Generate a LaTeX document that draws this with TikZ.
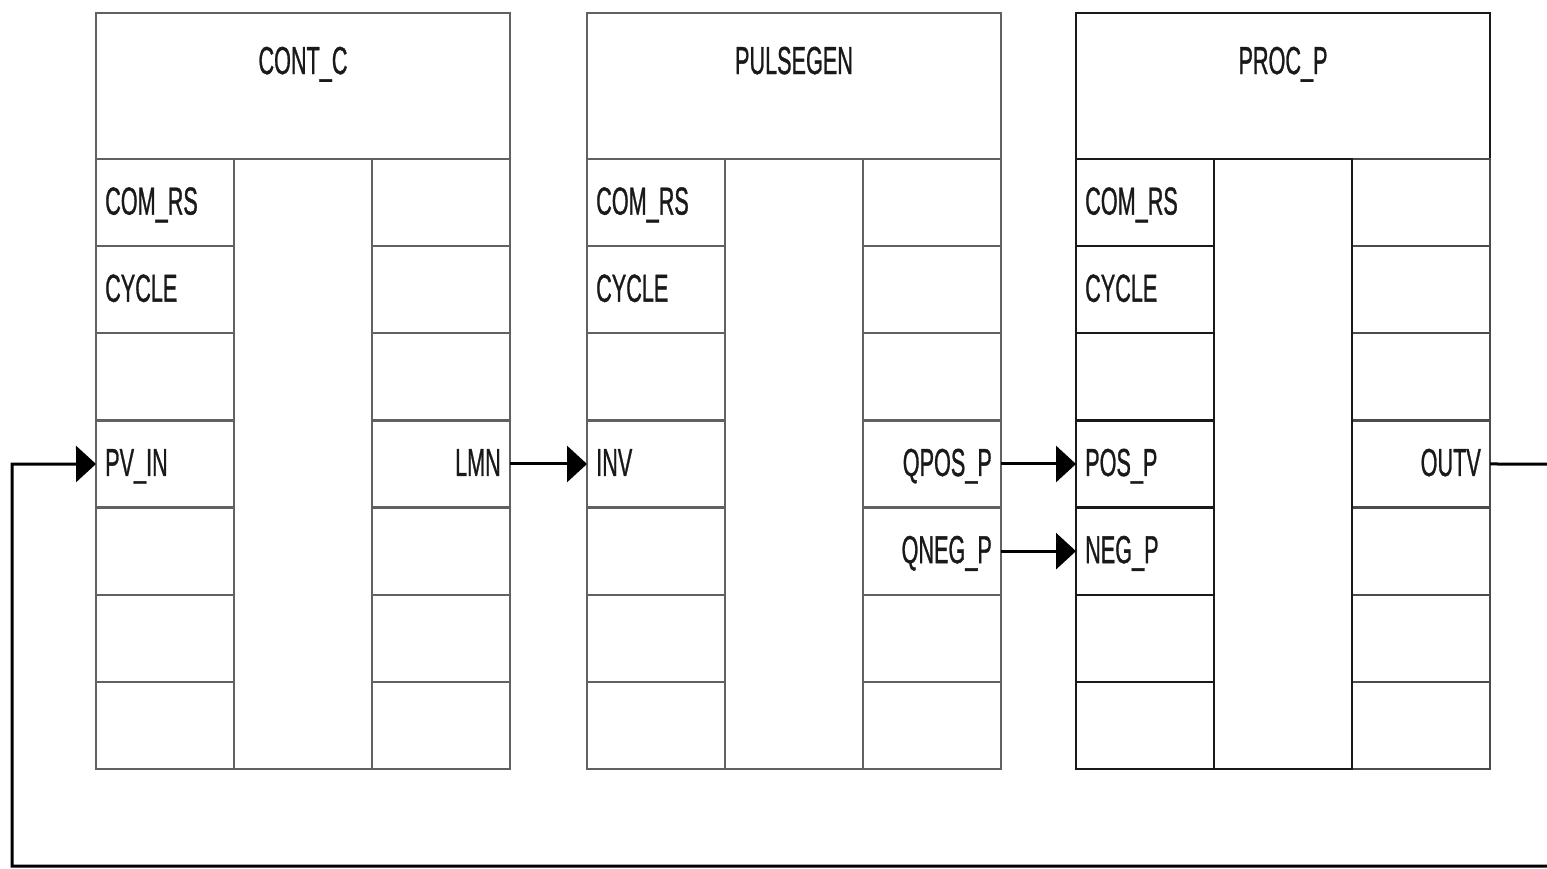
\documentclass[tikz,border=0pt]{standalone}
\usepackage{fontspec}
\usepackage{graphicx}
\setmainfont{Liberation Sans}
\newfontfamily\lblface[FakeBold=1.2]{Liberation Sans}
\usetikzlibrary{arrows.meta}
\newcommand\lbl[1]{\scalebox{0.555}[1]{#1}}
\tikzset{
  lblfont/.style={font=\lblface\fontsize{39}{44}\selectfont, text=black!90},
  cellbox/.style={draw=#1, line width=2.2pt, minimum width=138pt, minimum height=87.14pt,
    inner sep=0pt, outer sep=0pt, anchor=north west},
  midbox/.style={draw=#1, line width=2.2pt, minimum width=138pt, minimum height=609.98pt,
    inner sep=0pt, outer sep=0pt, anchor=north west},
  titlebox/.style={draw=#1, line width=2.2pt, minimum width=414pt, minimum height=146pt,
    inner sep=0pt, outer sep=0pt, anchor=north west},
  inlbl/.style={lblfont, anchor=base west, inner sep=0pt, xshift=9pt, yshift=-12pt},
  outlbl/.style={lblfont, anchor=base east, inner sep=0pt, xshift=-9pt, yshift=-12pt},
  ttl/.style={lblfont, anchor=base, inner sep=0pt},
  conn/.style={draw=black, line width=3pt},
  arr/.style={conn, -{Triangle[length=20pt,width=36pt]}},
}
\newcommand\fblk[4]{% #1 name, #2 x0, #3 colour, #4 right-column colour
  \node[titlebox=#3] (#1t) at (#2,13) {};
  \foreach \r in {1,...,7}{
    \node[cellbox=#4] (#1r\r) at ({#2+276},{159+(\r-1)*87.14}) {};
  }
  \node[midbox=#3] (#1m) at ({#2+138},159) {};
  \foreach \r in {1,...,7}{
    \node[cellbox=#3] (#1l\r) at (#2,{159+(\r-1)*87.14}) {};
  }
}
\begin{document}
\begin{tikzpicture}[x=1pt,y=-1pt]
\useasboundingbox (0,0) rectangle (1547,868);
\clip (0,0) rectangle (1547,868);
% blocks
\fblk{a}{96}{black!62}{black!62}
\fblk{b}{587}{black!62}{black!62}
\fblk{c}{1076}{black!90}{black!70}
% titles
\node[ttl] (at1) at (303,74) {\lbl{CONT\_C}};
\node[ttl] (bt1) at (794,74) {\lbl{PULSEGEN}};
\node[ttl] (ct1) at (1283,74) {\lbl{PROC\_P}};
% labels block a
\node[inlbl] (aL1) at (al1.west) {\lbl{COM\_RS}};
\node[inlbl] (aL2) at (al2.west) {\lbl{CYCLE}};
\node[inlbl] (aL4) at (al4.west) {\lbl{PV\_IN}};
\node[outlbl] (aR4) at (ar4.east) {\lbl{LMN}};
% labels block b
\node[inlbl] (bL1) at (bl1.west) {\lbl{COM\_RS}};
\node[inlbl] (bL2) at (bl2.west) {\lbl{CYCLE}};
\node[inlbl] (bL4) at (bl4.west) {\lbl{INV}};
\node[outlbl] (bR4) at (br4.east) {\lbl{QPOS\_P}};
\node[outlbl] (bR5) at (br5.east) {\lbl{QNEG\_P}};
% labels block c
\node[inlbl] (cL1) at (cl1.west) {\lbl{COM\_RS}};
\node[inlbl] (cL2) at (cl2.west) {\lbl{CYCLE}};
\node[inlbl] (cL4) at (cl4.west) {\lbl{POS\_P}};
\node[inlbl] (cL5) at (cl5.west) {\lbl{NEG\_P}};
\node[outlbl] (cR4) at (cr4.east) {\lbl{OUTV}};
% connectors
\draw[arr] (ar4.east) -- (bl4.west);
\draw[arr] (br4.east) -- (cl4.west);
\draw[arr] (br5.east) -- (cl5.west);
\coordinate (fbR) at (1575,464);
\coordinate (fbRB) at (1575,866);
\coordinate (fbLB) at (12,866);
\coordinate (fbL) at (12,464);
\draw[arr] (cr4.east) -- (fbR) -- (fbRB) -- (fbLB) -- (fbL) -- (al4.west);
\end{tikzpicture}
\end{document}
